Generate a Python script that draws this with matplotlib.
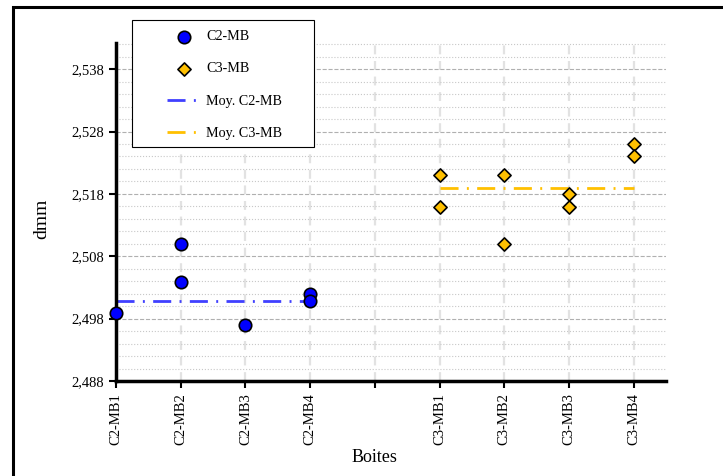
import matplotlib.pyplot as plt
import matplotlib.patches as mpatches
import numpy as np

plt.rcParams['font.family'] = ['Liberation Serif', 'DejaVu Serif']

# boites (position 4 laissee vide entre les deux groupes)
labels = ["C2-MB1", "C2-MB2", "C2-MB3", "C2-MB4", "",
          "C3-MB1", "C3-MB2", "C3-MB3", "C3-MB4"]

# mesures C2-MB
c2_x = [0, 1, 1, 2, 3, 3]
c2_y = [2.4989, 2.5099, 2.5039, 2.4969, 2.5019, 2.5009]
c2_moy = 2.5009

# mesures C3-MB
c3_x = [5, 5, 6, 6, 7, 7, 8, 8]
c3_y = [2.5210, 2.5159, 2.5210, 2.5099, 2.5180, 2.5159, 2.5260, 2.5240]
c3_moy = 2.5189

yticks = [2.488, 2.498, 2.508, 2.518, 2.528, 2.538]

W, H = 723, 476
fig = plt.figure(figsize=(W / 100, H / 100), dpi=100)
ax = fig.add_axes([116 / W, 1 - 381 / H, 550 / W, 338 / H])

ax.set_xlim(0, 8.5)
ax.set_ylim(2.488, 2.5422)

# grille
ax.set_yticks(yticks)
ax.set_yticks(np.arange(2.488, 2.5422, 0.002), minor=True)
ax.yaxis.grid(True, which='major', color='#b0b0b0', linestyle='--', linewidth=0.8)
ax.yaxis.grid(True, which='minor', color='#c8c8c8', linestyle=':', linewidth=0.8)
ax.set_xticks(range(len(labels)))
ax.xaxis.grid(True, color='#e2e2e2', linestyle='--', linewidth=1.6, dashes=(4, 3))
ax.set_axisbelow(True)

ax.plot([0, 3], [c2_moy, c2_moy], color='#4040ff', linestyle='-.', linewidth=2,
        dashes=(6.5, 3, 0.7, 3), label='Moy. C2-MB', zorder=2)
ax.plot([5, 8], [c3_moy, c3_moy], color='#ffc000', linestyle='-.', linewidth=2,
        dashes=(6.5, 3, 0.7, 3), label='Moy. C3-MB', zorder=2)
ax.scatter(c2_x, c2_y, s=80, marker='o', color='#0000ff', edgecolor='black',
           linewidth=1.2, label='C2-MB', zorder=3, clip_on=False)
ax.scatter(c3_x, c3_y, s=45, marker='D', color='#ffc000', edgecolor='black',
           linewidth=1.2, label='C3-MB', zorder=3, clip_on=False)

ax.set_xticklabels(labels, rotation=90, fontsize=10.5)
ax.set_yticklabels([("%.3f" % v).replace('.', ',') for v in yticks], fontsize=10.5)
ax.tick_params(axis='both', which='major', length=5, width=1.5, direction='out')
ax.tick_params(axis='y', which='minor', length=0)

for s in ['top', 'right']:
    ax.spines[s].set_visible(False)
ax.spines['left'].set_linewidth(2.5)
ax.spines['bottom'].set_linewidth(2.5)

ax.set_ylabel('dmm', fontsize=14)
ax.yaxis.set_label_coords(-0.12, 0.48)
ax.set_xlabel('Boites', fontsize=13)
ax.xaxis.set_label_coords(4 / 8.5, -0.2)

# legende : cadre dessine a part
fig.patches.append(mpatches.Rectangle((132 / W, 1 - 147 / H), 182 / W, 127 / H,
                                      transform=fig.transFigure, facecolor='white',
                                      edgecolor='black', linewidth=0.8, zorder=4))
h, l = ax.get_legend_handles_labels()
order = [2, 3, 0, 1]
leg = fig.legend([h[i] for i in order], [l[i] for i in order],
                 loc='upper left', bbox_to_anchor=(163 / W, 1 - 26 / H),
                 fontsize=10.2, frameon=False, labelspacing=1.35,
                 borderpad=0.3, handlelength=2.4, handletextpad=0.35,
                 borderaxespad=0)
leg.set_zorder(5)

# cadre exterieur
fig.patches.append(mpatches.Rectangle((13 / W, -0.1), 1.0, 1 - 7 / H + 0.1,
                                      transform=fig.transFigure, fill=False,
                                      edgecolor='black', linewidth=2.2))

fig.savefig('out.png', dpi=100)
